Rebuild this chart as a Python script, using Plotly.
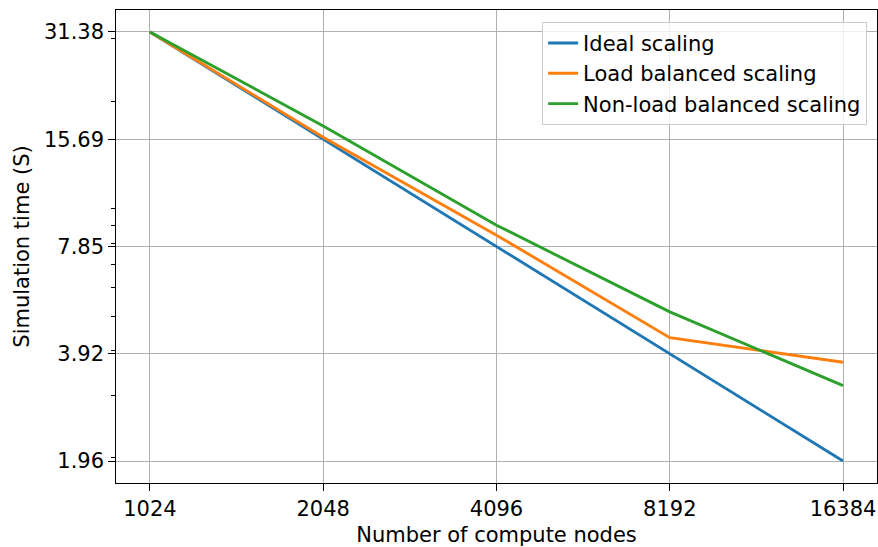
import numpy as np
import plotly.graph_objects as go

nodes = [1024, 2048, 4096, 8192, 16384]
ideal = [31.38, 15.69, 7.85, 3.92, 1.96]
load_balanced = [31.38, 15.9, 8.44, 4.35, 3.71]
non_load_balanced = [31.38, 17.1, 9.0, 5.14, 3.19]
x_ticks = [1024, 2048, 4096, 8192, 16384]
y_ticks = [1.96, 3.92, 7.85, 15.69, 31.38]
y_tick_labels = ["1.96", "3.92", "7.85", "15.69", "31.38"]
y_minor = [2, 3, 4, 5, 6, 7, 8, 9, 10, 20, 30]

FONT = "DejaVu Sans"
fig = go.Figure()
for name, ys, col in [("Ideal scaling", ideal, "#1f77b4"),
                      ("Load balanced scaling", load_balanced, "#ff7f0e"),
                      ("Non-load balanced scaling", non_load_balanced, "#2ca02c")]:
    fig.add_trace(go.Scatter(x=nodes, y=ys, mode="lines", name=name,
                             line=dict(color=col, width=2.9)))

l2 = np.log10(2)
pad = 0.196
fig.update_layout(
    width=878, height=547,
    margin=dict(l=116, r=1, t=10, b=64),
    plot_bgcolor="white", paper_bgcolor="white",
    font=dict(family=FONT, size=21, color="black"),
    showlegend=True,
    legend=dict(x=0.987, y=0.975, xanchor="right", yanchor="top",
                bgcolor="rgba(255,255,255,0.8)", bordercolor="#cccccc", borderwidth=1,
                font=dict(size=21)),
    xaxis=dict(type="log", range=[np.log10(1024) - pad * l2, np.log10(16384) + pad * l2],
               tickvals=x_ticks, ticktext=[str(v) for v in x_ticks],
               tickfont=dict(size=21),
               showgrid=True, gridcolor="#b0b0b0", gridwidth=1.2,
               showline=True, mirror=True, linecolor="black", linewidth=1.1,
               ticks="outside", ticklen=6.7, tickwidth=1.1, tickcolor="black",
               zeroline=False,
               title=dict(text="Number of compute nodes", standoff=9, font=dict(size=21))),
    yaxis=dict(type="log", range=[np.log10(1.96) - 0.205 * l2, np.log10(31.38) + 0.205 * l2],
               tickvals=y_ticks, ticktext=y_tick_labels,
               tickfont=dict(size=21),
               showgrid=True, gridcolor="#b0b0b0", gridwidth=1.2,
               showline=True, mirror=True, linecolor="black", linewidth=1.1,
               ticks="outside", ticklen=6.7, tickwidth=1.1, tickcolor="black",
               minor=dict(tickvals=y_minor, ticks="outside", ticklen=3.8, tickwidth=1.0,
                          tickcolor="black", showgrid=False),
               zeroline=False,
               title=dict(text="Simulation time (S)", standoff=8, font=dict(size=21))),
)
fig.write_html("out.html")
